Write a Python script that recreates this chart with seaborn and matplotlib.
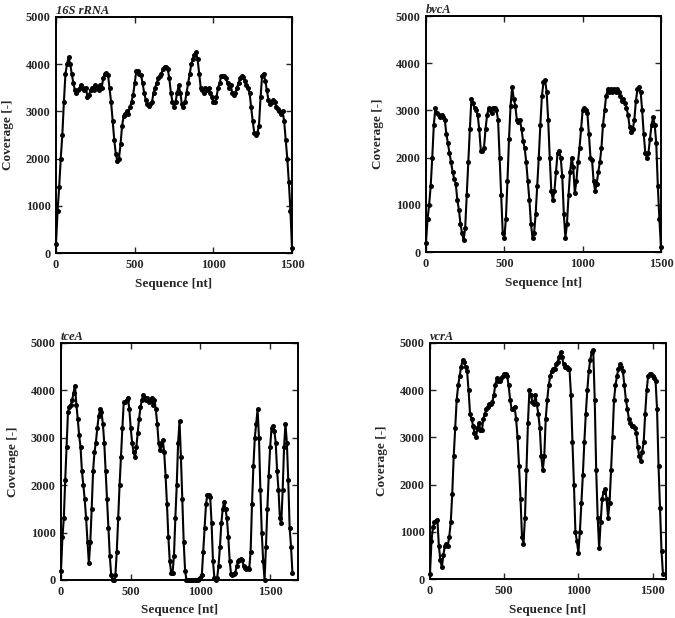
import numpy as np
import pandas as pd
import matplotlib
import matplotlib.pyplot as plt
import seaborn as sns

matplotlib.use('Agg')

genes = ['16S rRNA', 'bvcA', 'tceA', 'vcrA']

pos_16s = np.arange(0, 1510, 10)
cov_16s = [200, 900, 1400, 2000, 2500, 3200, 3800, 4000, 4150, 4000,
           3800, 3600, 3450, 3400, 3450, 3500, 3550, 3500, 3450, 3500,
           3300, 3350, 3450, 3500, 3450, 3550, 3500, 3450, 3550, 3500,
           3700, 3800, 3820, 3780, 3500, 3200, 2800, 2400, 2100, 1950,
           2000, 2300, 2700, 2900, 2950, 3000, 2950, 3100, 3200, 3350,
           3600, 3850, 3850, 3800, 3780, 3600, 3400, 3250, 3150, 3120,
           3150, 3200, 3400, 3500, 3600, 3700, 3750, 3800, 3900, 3950,
           3950, 3900, 3700, 3400, 3200, 3100, 3200, 3400, 3550, 3400,
           3150, 3100, 3200, 3400, 3600, 3800, 4000, 4100, 4200, 4250,
           4100, 3800, 3500, 3450, 3400, 3500, 3450, 3500, 3400, 3300,
           3200, 3200, 3300, 3500, 3600, 3750, 3750, 3750, 3700, 3600,
           3500, 3550, 3400, 3350, 3400, 3500, 3600, 3700, 3750, 3720,
           3650, 3550, 3500, 3400, 3100, 2800, 2550, 2500, 2550, 2700,
           3300, 3750, 3800, 3650, 3450, 3250, 3150, 3200, 3250, 3200,
           3100, 3050, 3000, 2950, 3000, 2800, 2400, 2000, 1500, 900, 100]

pos_bvca = np.arange(0, 1510, 10)
cov_bvca = [200, 700, 1000, 1400, 2000, 2700, 3050, 2950, 2900, 2850,
            2900, 2850, 2800, 2500, 2300, 2100, 1900, 1700, 1550, 1450,
            1100, 900, 600, 400, 250, 500, 1200, 1900, 2600, 3250,
            3150, 3050, 3000, 2900, 2600, 2150, 2150, 2200, 2600, 2900,
            3050, 3000, 2950, 3050, 3050, 3000, 2800, 2000, 1200, 400,
            300, 700, 1500, 2400, 3100, 3500, 3250, 3100, 2800, 2750,
            2800, 2600, 2350, 2200, 1900, 1500, 1100, 600, 300, 400,
            800, 1400, 2000, 2700, 3300, 3600, 3650, 3400, 2800, 2000,
            1300, 1100, 1300, 1700, 2100, 2150, 2000, 1600, 800, 300,
            600, 1200, 1700, 2000, 1800, 1250, 1500, 1900, 2200, 2600,
            3000, 3050, 3000, 2950, 2500, 2000, 1950, 1500, 1300, 1450,
            1700, 1900, 2200, 2700, 3000, 3300, 3450, 3400, 3450, 3400,
            3450, 3400, 3450, 3400, 3300, 3200, 3250, 3150, 3050, 2900,
            2650, 2550, 2600, 2800, 3200, 3450, 3500, 3400, 3000, 2500,
            2100, 2000, 2100, 2400, 2700, 2850, 2700, 2300, 1400, 700, 100]

pos_tcea = np.arange(0, 1670, 10)
cov_tcea = [200, 900, 1300, 2100, 2800, 3550, 3650, 3700, 3800, 3950,
            4100, 3700, 3400, 3050, 2800, 2300, 2000, 1700, 1300, 800,
            350, 800, 1500, 2300, 2700, 2900, 3200, 3450, 3600, 3550,
            3300, 2900, 2300, 1700, 1100, 500, 100, 0, 0, 100,
            600, 1300, 2000, 2600, 3200, 3750, 3750, 3800, 3850, 3600,
            3200, 2900, 2700, 2600, 2800, 3100, 3400, 3650, 3800, 3900,
            3850, 3800, 3850, 3750, 3800, 3850, 3700, 3800, 3600, 3300,
            2900, 2750, 2850, 2950, 2700, 2200, 1600, 900, 400, 150,
            150, 500, 1300, 2000, 2900, 3350, 2600, 1700, 800, 200,
            0, 0, 0, 0, 0, 0, 0, 0, 10, 20,
            50, 100, 600, 1100, 1600, 1800, 1800, 1750, 1200, 400,
            50, 0, 50, 300, 700, 1200, 1500, 1650, 1500, 1300,
            900, 400, 120, 100, 130, 150, 300, 400, 430, 450,
            420, 300, 260, 240, 250, 230, 600, 1600, 2400, 3000,
            3300, 3600, 3000, 1900, 1000, 400, 0, 700, 1500, 2200,
            2800, 3200, 3250, 3150, 2900, 2300, 1900, 1300, 1200, 1900,
            2800, 3300, 2900, 2100, 1100, 700, 150]

pos_vcra = np.arange(0, 1580, 10)
cov_vcra = [100, 800, 1100, 1200, 1230, 1250, 700, 400, 250, 500,
            700, 750, 700, 900, 1200, 1800, 2600, 3200, 3800, 4100,
            4300, 4500, 4650, 4600, 4500, 4400, 4000, 3500, 3400, 3250,
            3100, 3000, 3200, 3300, 3150, 3150, 3400, 3500, 3600, 3650,
            3700, 3700, 3750, 3900, 4100, 4250, 4200, 4200, 4250, 4300,
            4350, 4350, 4300, 4100, 3800, 3600, 3600, 3650, 3400, 3000,
            2400, 1700, 900, 750, 1300, 2300, 3300, 4000, 3900, 3750,
            3700, 3900, 3700, 3500, 3200, 2600, 2300, 2600, 3400, 3800,
            4100, 4300, 4400, 4450, 4450, 4550, 4600, 4700, 4800, 4700,
            4550, 4500, 4500, 4450, 4450, 3900, 2900, 2000, 1000, 800,
            550, 1000, 1600, 2200, 2900, 3500, 4000, 4400, 4650, 4800,
            4850, 3800, 2300, 1300, 650, 1200, 1700, 1850, 1900, 1700,
            1300, 1600, 2300, 3000, 3800, 4100, 4300, 4450, 4550, 4500,
            4400, 4100, 3800, 3600, 3400, 3300, 3250, 3250, 3200, 3100,
            2800, 2600, 2500, 2700, 2900, 3500, 4000, 4300, 4350, 4350,
            4300, 4250, 4200, 3600, 2400, 1500, 600, 100]

positions = [pos_16s, pos_bvca, pos_tcea, pos_vcra]
coverages = [cov_16s, cov_bvca, cov_tcea, cov_vcra]
x_max = [1500, 1500, 1700, 1590]

sns.set_style('ticks')
plt.rcParams['font.family'] = ['Liberation Serif', 'DejaVu Serif']
plt.rcParams['font.weight'] = 'bold'
plt.rcParams['axes.labelweight'] = 'bold'

fig = plt.figure(figsize=(6.75, 6.18), dpi=100)
boxes = [[0.083, 0.5906, 0.3496, 0.3819],
         [0.6311, 0.5922, 0.3481, 0.3819],
         [0.0904, 0.0615, 0.3511, 0.3835],
         [0.6370, 0.0631, 0.3496, 0.3819]]

for gene, x, y, xm, box in zip(genes, positions, coverages, x_max, boxes):
    ax = fig.add_axes(box)
    df = pd.DataFrame({'Sequence': x, 'Coverage': y})
    sns.lineplot(data=df, x='Sequence', y='Coverage', ax=ax, color='black',
                 linewidth=1.5, marker='o', markersize=3.6, markeredgewidth=0,
                 clip_on=False)
    ax.set_xlim(0, xm)
    ax.set_ylim(0, 5000)
    ax.set_xticks([0, 500, 1000, 1500])
    ax.set_yticks(range(0, 5001, 1000))
    ax.tick_params(direction='in', top=True, right=True, length=4, width=1,
                   labelsize=8.8, pad=4)
    for lab in ax.get_xticklabels() + ax.get_yticklabels():
        lab.set_fontweight('bold')
    for sp in ax.spines.values():
        sp.set_linewidth(1.4)
        sp.set_color('black')
    ax.set_xlabel('Sequence [nt]', fontsize=9.5, fontweight='bold', labelpad=5)
    ax.set_ylabel('Coverage [-]', fontsize=9.5, fontweight='bold', labelpad=8)
    ax.set_title(gene, loc='left', fontsize=9, fontweight='bold',
                 fontstyle='italic', pad=2)

plt.savefig('out.png', dpi=100)
plt.close()
